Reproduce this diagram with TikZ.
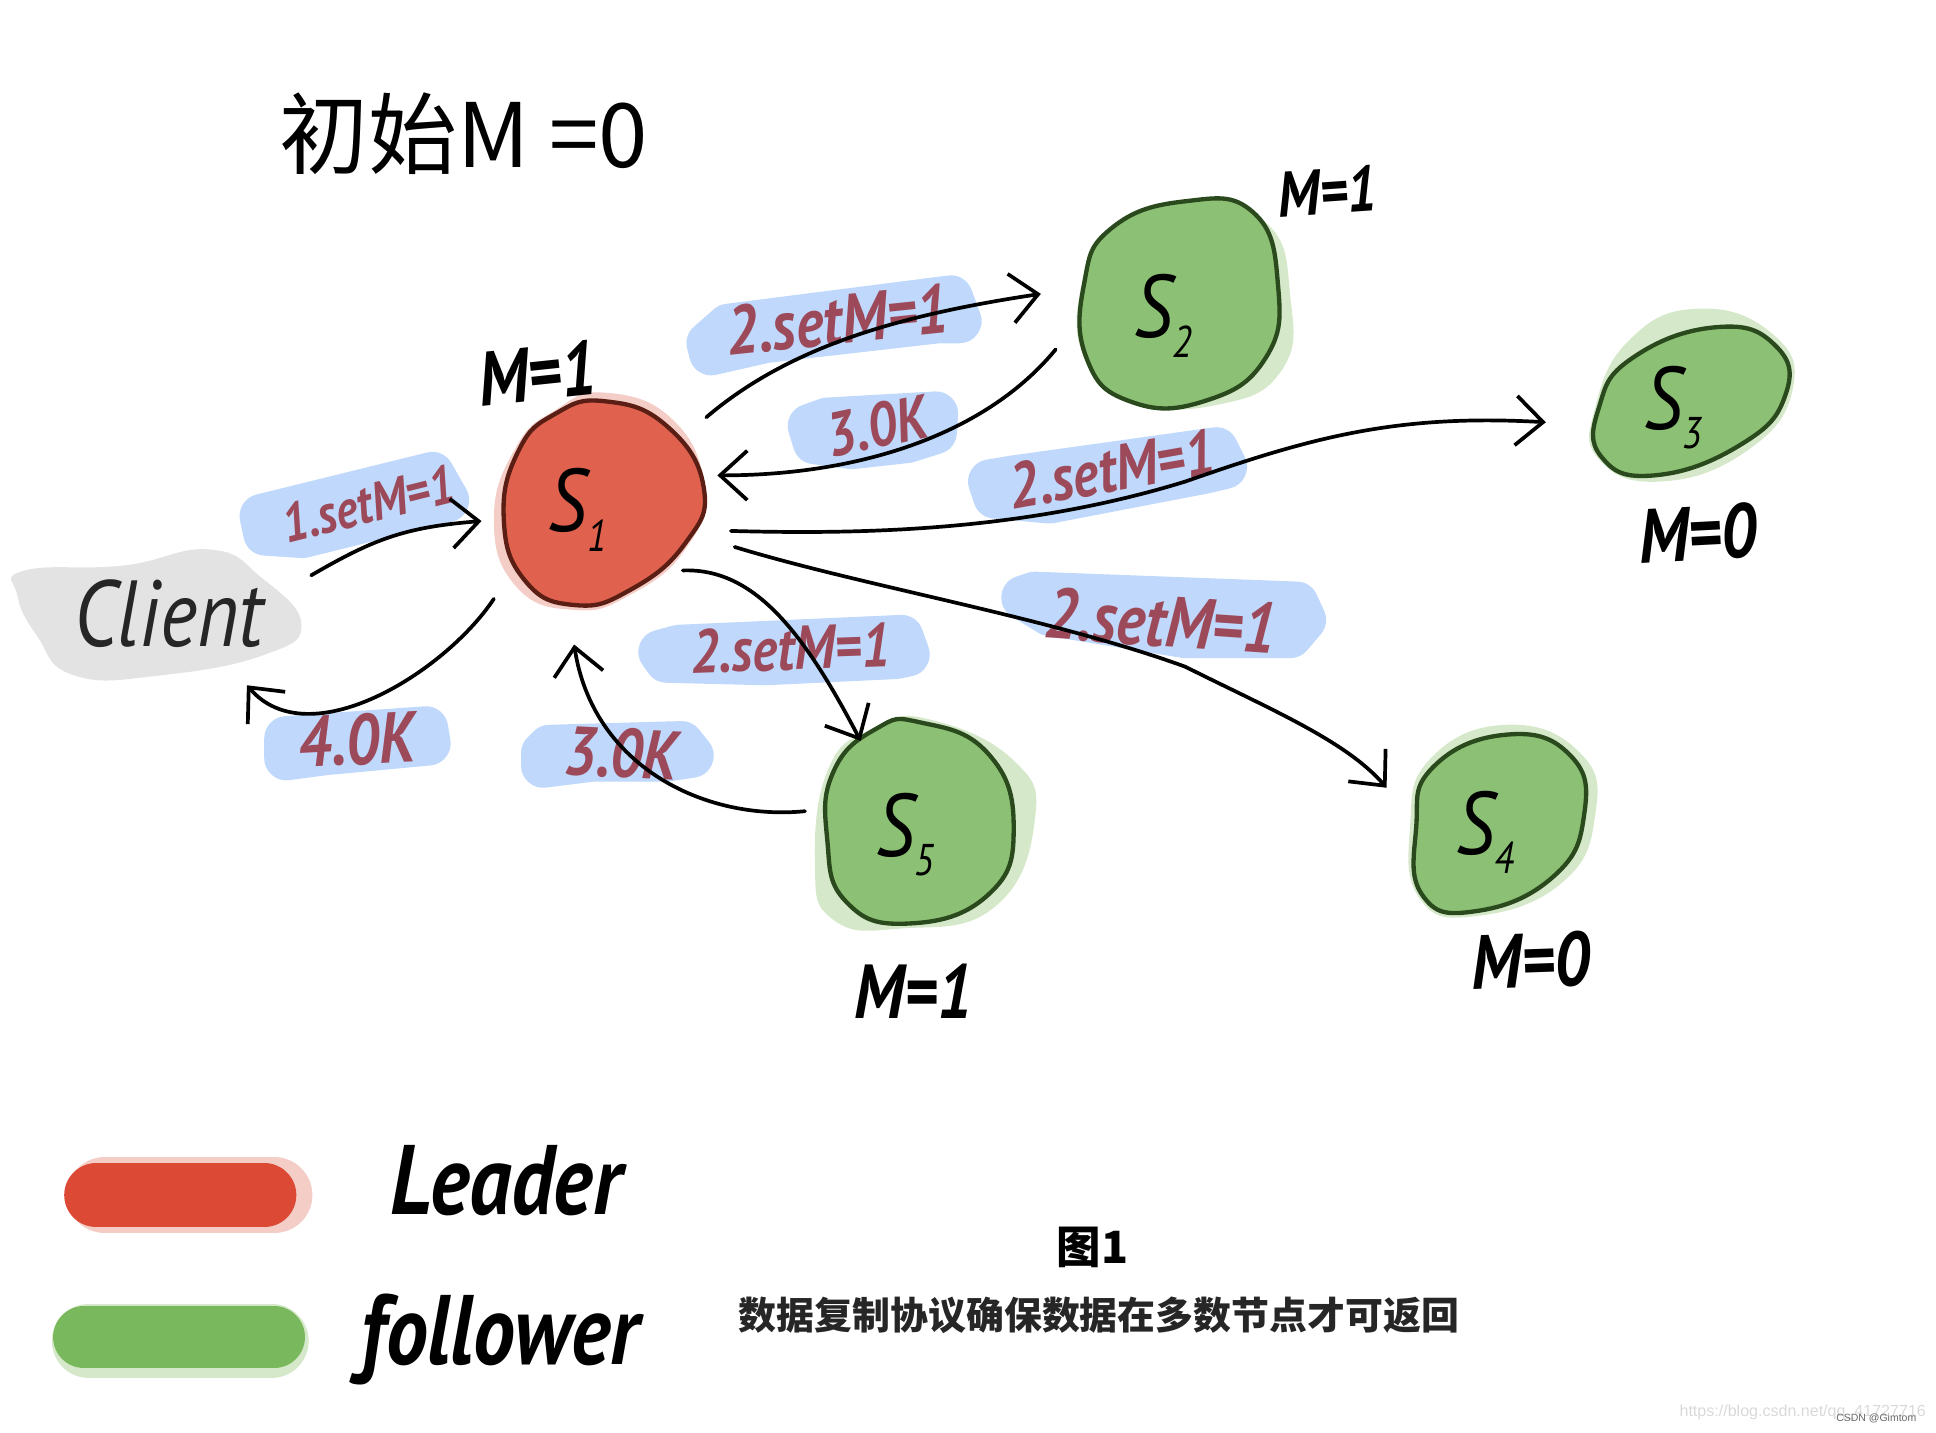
\documentclass[tikz,border=0pt]{standalone}
\usepackage{fontspec}
\setmainfont{PT Sans}
\newfontfamily\handf{PT Sans}[FakeStretch=0.85]
\newfontfamily\cjkhand{Noto Sans CJK SC}
\newfontfamily\plainsans{Liberation Sans}
\usetikzlibrary{arrows.meta}
\newcommand\fs[1]{\fontsize{#1}{#1}\selectfont}
\newcommand\Sn[1]{S\raisebox{-0.22em}{\fs{36}#1}}
\definecolor{redfill}{HTML}{E0624E}
\definecolor{redhalo}{HTML}{F3CDC6}
\definecolor{redline}{HTML}{5A1E14}
\definecolor{greenfill}{HTML}{8CC074}
\definecolor{greenhalo}{HTML}{D5E8C9}
\definecolor{greenline}{HTML}{2A4A1E}
\definecolor{bluemark}{HTML}{BFD8FB}
\definecolor{labelred}{HTML}{9C4A5A}
\definecolor{clientgrey}{HTML}{E3E3E3}
\definecolor{legendred}{HTML}{DC4A35}
\definecolor{legendgreen}{HTML}{79B85C}
\tikzset{
  x=1pt,y=-1pt,
  blob/.style={smooth cycle,tension=0.8},
  bluepatch/.style={draw=bluemark,fill=bluemark,line width=36pt,line join=round},
  conn/.style={draw=black,line width=3pt,line cap=round,line join=round,
    -{Straight Barb[length=22pt,width=40pt,line width=3pt]}},
  tail/.style={draw=black,line width=3pt,line cap=round},
  server/.style={inner sep=0pt,font=\fs{72}\handf\itshape,text=black},
  marktext/.style={text=labelred,inner sep=0pt},
  hand/.style={font=\fs{62}\handf\bfseries\itshape,text=black,inner sep=0pt},
  bigout/.style={line width=3.5pt,line join=round},
}
\begin{document}
\begin{tikzpicture}
\useasboundingbox (0,0) rectangle (1568,1160);
% client
\fill[clientgrey] plot[blob] coordinates {(20,462) (100,458) (170,445) (212,468) (244,505) (215,530) (130,547) (60,547) (30,515) (14,482)};
% blue highlights
\path[bluepatch] (212,418) -- (350,384) -- (362,405) -- (245,434) -- (215,432) -- cycle;
\path[bluepatch] (232,598) -- (345,590) -- (347,602) -- (262,610) -- (232,614) -- cycle;
\path[bluepatch] (440,610) -- (445,605) -- (552,602) -- (560,612) -- (540,615) -- (480,615) -- (440,620) -- cycle;
\path[bluepatch] (535,528) -- (550,524) -- (730,516) -- (735,530) -- (725,532) -- (620,537) -- (540,535) -- cycle;
\path[bluepatch] (574,278) -- (590,264) -- (770,241) -- (777,260) -- (760,260) -- (620,276) -- (576,286) -- cycle;
\path[bluepatch] (656,345) -- (670,340) -- (758,335) -- (757,350) -- (735,357) -- (690,362) -- (660,358) -- cycle;
\path[bluepatch] (802,390) -- (820,387) -- (985,364) -- (992,378) -- (975,382) -- (850,406) -- (806,402) -- cycle;
\path[bluepatch] (829,484) -- (838,481) -- (1050,489) -- (1056,502) -- (1045,515) -- (960,515) -- (850,497) -- cycle;
% server blobs
\fill[redhalo] plot[blob] coordinates {(490,318) (545,340) (570,395) (555,445) (510,482) (465,494) (418,475) (400,420) (418,362) (450,332)};
\fill[redfill] plot[blob] coordinates {(490,325) (540,345) (570,395) (555,440) (510,478) (465,490) (425,470) (408,420) (420,365) (450,335)};
\draw[redline,bigout] plot[blob] coordinates {(490,325) (540,345) (570,395) (555,440) (510,478) (465,490) (425,470) (408,420) (420,365) (450,335)};
\fill[greenhalo] plot[blob] coordinates {(960,165) (1025,180) (1045,240) (1038,300) (985,328) (915,325) (878,290) (876,230) (900,185)};
\fill[greenfill] plot[blob] coordinates {(960,163) (1015,172) (1035,230) (1025,290) (975,325) (915,325) (880,290) (878,230) (900,185)};
\draw[greenline,bigout] plot[blob] coordinates {(960,163) (1015,172) (1035,230) (1025,290) (975,325) (915,325) (880,290) (878,230) (900,185)};
\fill[greenhalo] plot[blob] coordinates {(1320,275) (1375,250) (1435,270) (1452,315) (1415,365) (1345,390) (1295,372) (1292,330)};
\fill[greenfill] plot[blob] coordinates {(1322,290) (1390,265) (1438,280) (1446,320) (1410,360) (1340,385) (1297,370) (1295,330)};
\draw[greenline,bigout] plot[blob] coordinates {(1322,290) (1390,265) (1438,280) (1446,320) (1410,360) (1340,385) (1297,370) (1295,330)};
\fill[greenhalo] plot[blob] coordinates {(1220,587) (1280,610) (1292,660) (1265,715) (1195,742) (1150,728) (1142,670) (1158,615)};
\fill[greenfill] plot[blob] coordinates {(1220,595) (1272,612) (1283,660) (1258,710) (1195,738) (1152,725) (1147,670) (1160,622)};
\draw[greenline,bigout] plot[blob] coordinates {(1220,595) (1272,612) (1283,660) (1258,710) (1195,738) (1152,725) (1147,670) (1160,622)};
\fill[greenhalo] plot[blob] coordinates {(750,582) (820,615) (838,665) (805,735) (730,752) (675,745) (660,700) (672,620) (710,590)};
\fill[greenfill] plot[blob] coordinates {(745,585) (800,610) (821,670) (800,725) (735,748) (685,730) (670,680) (675,625) (710,590)};
\draw[greenline,bigout] plot[blob] coordinates {(745,585) (800,610) (821,670) (800,725) (735,748) (685,730) (670,680) (675,625) (710,590)};
% nodes
\node[server] (s1) at (468,413) {\Sn{1}};
\node[server] (s2) at (942,256) {\Sn{2}};
\node[server] (s3) at (1355,330) {\Sn{3}};
\node[server] (s4) at (1203,674) {\Sn{4}};
\node[server] (s5) at (733,676) {\Sn{5}};
\node[inner sep=0pt,font=\fs{76}\handf\itshape,text=black!85] (client) at (137,497) {Client};
% marker labels
\node[marktext,font=\fs{44}\handf\bfseries\itshape,rotate=14] (m1) at (298,408) {1.setM=1};
\node[marktext,font=\fs{56}\handf\bfseries\itshape,rotate=6] (m2) at (678,259) {2.setM=1};
\node[marktext,font=\fs{50}\handf\bfseries\itshape,rotate=12] (m3) at (710,345) {3.0K};
\node[marktext,font=\fs{52}\handf\bfseries\itshape,rotate=10] (m4) at (900,380) {2.setM=1};
\node[marktext,font=\fs{58}\handf\bfseries\itshape,rotate=-4] (m5) at (940,503) {2.setM=1};
\node[marktext,font=\fs{50}\handf\bfseries\itshape,rotate=2] (m6) at (640,525) {2.setM=1};
\node[marktext,font=\fs{58}\handf\bfseries\itshape,rotate=3] (m7) at (289,599) {4.0K};
\node[marktext,font=\fs{56}\handf\bfseries\itshape,rotate=-3] (m8) at (503,610) {3.0K};
% connectors
\draw[conn] ([shift={(115,-31)}]client.center) .. controls ([shift={(165,-60)}]client.center) and ([shift={(190,-70)}]client.center) .. ([shift={(-78,9)}]s1.center);
\draw[conn] ([shift={(-68,72)}]s1.center) .. controls ([shift={(-108,132)}]s1.center) and ([shift={(-218,200)}]s1.center) .. ([shift={(63,58)}]client.center);
\draw[conn] ([shift={(104,-75)}]s1.center) .. controls ([shift={(172,-133)}]s1.center) and ([shift={(262,-158)}]s1.center) .. ([shift={(-99,-18)}]s2.center);
\draw[conn] ([shift={(-87,27)}]s2.center) .. controls ([shift={(-142,94)}]s2.center) and ([shift={(-242,129)}]s2.center) .. ([shift={(113,-28)}]s1.center);
\coordinate (c3) at ([shift={(492,-23)}]s1.center);
\draw[tail] ([shift={(124,17)}]s1.center) .. controls ([shift={(232,20)}]s1.center) and ([shift={(362,17)}]s1.center) .. (c3);
\draw[conn] (c3) .. controls ([shift={(592,-58)}]s1.center) and ([shift={(662,-78)}]s1.center) .. ([shift={(-103,12)}]s3.center);
\coordinate (c4) at ([shift={(492,127)}]s1.center);
\draw[tail] ([shift={(127,30)}]s1.center) .. controls ([shift={(232,62)}]s1.center) and ([shift={(382,87)}]s1.center) .. (c4);
\draw[conn] (c4) .. controls ([shift={(562,162)}]s1.center) and ([shift={(622,187)}]s1.center) .. ([shift={(-80,-36)}]s4.center);
\draw[conn] ([shift={(85,49)}]s1.center) .. controls ([shift={(142,47)}]s1.center) and ([shift={(182,97)}]s1.center) .. ([shift={(-36,-76)}]s5.center);
\draw[conn] ([shift={(-81,-19)}]s5.center) .. controls ([shift={(-163,-11)}]s5.center) and ([shift={(-253,-56)}]s5.center) .. ([shift={(-3,109)}]s1.center);
% hand notes
\node[hand,rotate=6] (mS1) at (435,302) {M=1};
\node[hand,font=\fs{52}\handf\bfseries\itshape,rotate=4] (mS2) at (1075,155) {M=1};
\node[hand,rotate=3] (mS3) at (1375,432) {M=0};
\node[hand,rotate=2] (mS4) at (1240,778) {M=0};
\node[hand] (mS5) at (740,803) {M=1};
\node[inner sep=0pt,anchor=east,font=\fs{72}\cjkhand] (title) at (525,108) {初始M =0};
% legend
\draw[redhalo,line width=62pt,line cap=round] (85,968) -- (222,968);
\draw[legendred,line width=52pt,line cap=round] (78,968) -- (214,968);
\draw[greenhalo,line width=60pt,line cap=round] (72,1086) -- (220,1086);
\draw[legendgreen,line width=50pt,line cap=round] (68,1083) -- (222,1083);
\node[inner sep=0pt,font=\fs{80}\handf\bfseries\itshape,anchor=west] (leader) at (316,956) {Leader};
\node[inner sep=0pt,font=\fs{80}\handf\bfseries\itshape,anchor=west] (follower) at (292,1085) {follower};
% caption
\node[inner sep=0pt,font=\fs{36}\cjkhand\bfseries] (cap1) at (885,1010) {图1};
\node[inner sep=0pt,font=\fs{30.7}\cjkhand\bfseries,text=black!85] (cap2) at (890,1065) {数据复制协议确保数据在多数节点才可返回};
% watermarks
\node[inner sep=0pt,anchor=east,font=\fs{13}\plainsans,text=black!15] (wm1) at (1560,1144) {https://blog.csdn.net/qq\_41727716};
\node[inner sep=0pt,anchor=west,font=\fs{8.5}\plainsans,text=black!60] (wm2) at (1487,1149) {CSDN @Gimtom};
\end{tikzpicture}
\end{document}
